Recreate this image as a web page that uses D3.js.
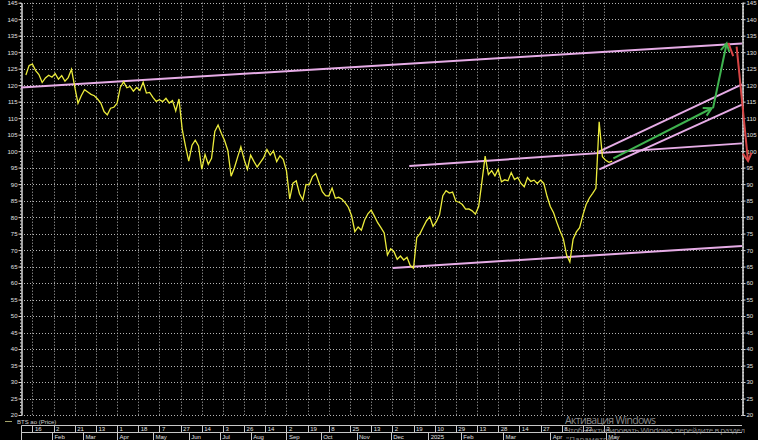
<!DOCTYPE html>
<html>
<head>
<meta charset="utf-8">
<script src="https://cdn.jsdelivr.net/npm/d3@7"></script>
<style>
  body { margin: 0; background: #000; }
  svg { display: block; }
</style>
</head>
<body>
<div id="chart"></div>
<script>
// price, one value every 2 trading days, starting at trading day 3
const priceStartDay = 3;
const priceStep = 2;
const priceValues = [
  123.1, 126.0, 126.4, 124.4, 123.2, 120.8, 122.2, 123.0, 122.4, 123.5,
  121.8, 122.9, 121.2, 122.3, 124.8, 119.5, 114.5, 116.8, 118.6, 117.9,
  117.2, 116.8, 115.8, 114.6, 112.0, 111.0, 113.0, 113.3, 114.5, 119.4,
  121.0, 119.2, 119.6, 118.2, 119.3, 118.4, 120.9, 117.6, 117.8, 116.3,
  115.1, 115.6, 115.0, 116.0, 114.6, 115.3, 112.2, 115.8, 106.6, 101.5,
  97.0, 101.8, 103.3, 101.6, 94.5, 99.0, 96.0, 97.8, 106.0, 107.9,
  105.4, 103.2, 100.2, 92.4, 94.9, 98.2, 101.3, 97.5, 94.5, 98.8,
  96.9, 95.2, 96.6, 98.0, 100.5, 98.8, 100.1, 96.8, 98.6, 97.5,
  94.0, 85.5, 90.3, 91.0, 87.1, 85.2, 89.9, 89.8, 92.3, 93.2,
  90.4, 87.7, 86.5, 86.4, 88.8, 85.7, 86.0, 85.5, 84.4, 83.0,
  80.4, 75.6, 77.0, 76.0, 79.1, 81.0, 82.1, 80.3, 78.3, 76.8,
  75.2, 68.5, 70.4, 69.5, 67.2, 68.2, 67.0, 67.8, 65.3, 64.5,
  73.8, 75.0, 77.0, 78.9, 80.1, 77.2, 78.6, 80.8, 86.5, 88.0,
  87.3, 87.6, 84.8, 84.5, 83.8, 82.4, 82.5, 81.9, 80.9, 83.2,
  90.7, 98.5, 92.9, 94.1, 92.5, 94.5, 90.7, 91.3, 91.0, 93.5,
  91.4, 92.0, 90.2, 89.2, 92.0, 90.8, 91.2, 90.2, 91.2, 90.2,
  86.3, 83.2, 81.3, 78.4, 75.8, 73.4, 68.5, 66.4, 73.3, 75.5,
  76.8, 80.6, 83.8, 85.8, 87.2, 88.7, 108.9, 98.3, 97.2, 96.6, 97.0
];

const totalDays = 442.7;
const firstTickDay = 7;
const tickEvery = 13;
const tickLabels = ["16","2","21","13","1","18","7","27","14","3","26","14","2","19",
  "8","25","13","2","19","10","29","13","28","14","27","8","22","3"];
const monthLabels = ["Feb","Mar","Apr","May","Jun","Jul","Aug","Sep","Oct","Nov","Dec",
  "2025","Feb","Mar","Apr","May"];
const monthDays = [19, 38, 59, 81, 103, 122, 141, 163, 184, 206, 227, 250, 270, 296, 325, 359];

const yTicks = d3.range(20, 146, 5);

// drawn lines: [day, price] end points
const trendLines = [
  [[0, 119.3], [442.7, 132.65]],
  [[228.2, 64.6], [442.7, 71.2]],
  [[238.4, 95.5], [442.7, 102.35]],
  [[354.5, 99.8], [442.7, 120.25]],
  [[355.1, 94.45], [442.7, 114.1]]
];
const greenArrows = [
  [[363.7, 97.8], [424.1, 113.0]],
  [[424.9, 113.0], [433.3, 132.7]]
];
const redStroke = [[434.3, 132.8], [437.3, 128.8]];
const redArrow = [[439.4, 131.7], [446.4, 97.0]];

const W = 758, H = 440;
const svg = d3.select("#chart").append("svg")
  .attr("width", W).attr("height", H)
  .style("background", "#000");

const x = d3.scaleLinear().domain([0, totalDays]).range([21, 742]);
const y = d3.scaleLinear().domain([20, 145]).range([415, 2.7]);

const tickDays = tickLabels.map((d, j) => firstTickDay + j * tickEvery);

// grid
const grid = svg.append("g")
  .attr("stroke", "#b4b4b4")
  .attr("stroke-width", 1)
  .attr("stroke-dasharray", "1,2");
grid.selectAll("line.h").data(yTicks).join("line")
  .attr("class", "h")
  .attr("x1", x(0)).attr("x2", x(totalDays))
  .attr("y1", d => Math.round(y(d)) + 0.5)
  .attr("y2", d => Math.round(y(d)) + 0.5);
grid.selectAll("line.v").data(tickDays).join("line")
  .attr("class", "v")
  .attr("x1", d => Math.round(x(d)) + 0.5)
  .attr("x2", d => Math.round(x(d)) + 0.5)
  .attr("y1", y(145)).attr("y2", y(20));

// axes
const styleAxis = g => {
  g.select(".domain").attr("stroke", "#d8d8d8");
  g.selectAll(".tick line").attr("stroke", "#d8d8d8");
  g.selectAll(".tick text").attr("fill", "#e0e0e0")
    .style("font", "6px 'Liberation Sans', Arial, sans-serif");
};
svg.append("g").attr("transform", "translate(21.5,0)")
  .call(d3.axisLeft(y).ticks(125).tickSize(1.5).tickFormat("").tickSizeOuter(0))
  .call(styleAxis);
svg.append("g").attr("transform", "translate(21.5,0)")
  .call(d3.axisLeft(y).tickValues(yTicks).tickSize(3).tickPadding(1).tickSizeOuter(0))
  .call(styleAxis);
svg.append("g").attr("transform", "translate(742.5,0)")
  .call(d3.axisRight(y).ticks(125).tickSize(1.5).tickFormat("").tickSizeOuter(0))
  .call(styleAxis);
svg.append("g").attr("transform", "translate(742.5,0)")
  .call(d3.axisRight(y).tickValues(yTicks).tickSize(3).tickPadding(1).tickSizeOuter(0))
  .call(styleAxis);

// trend lines
const line = d3.line().x(d => x(d[0])).y(d => y(d[1]));
svg.append("g").selectAll("path").data(trendLines).join("path")
  .attr("d", line)
  .attr("fill", "none")
  .attr("stroke", "#e6ace6")
  .attr("stroke-width", 2);

// price
const priceData = priceValues.map((v, k) => [priceStartDay + k * priceStep, v]);
svg.append("path")
  .datum(priceData)
  .attr("d", line)
  .attr("fill", "none")
  .attr("stroke", "#ecec3c")
  .attr("stroke-width", 1.3)
  .attr("stroke-linejoin", "miter");

// arrows
function arrow(g, pts, color) {
  g.append("path").attr("d", line(pts))
    .attr("fill", "none").attr("stroke", color).attr("stroke-width", 2);
  const [a, b] = pts.slice(-2).map(p => [x(p[0]), y(p[1])]);
  const ang = Math.atan2(b[1] - a[1], b[0] - a[0]);
  const L = 9, s = 0.5;
  const head = [
    [b[0] - L * Math.cos(ang - s), b[1] - L * Math.sin(ang - s)],
    b,
    [b[0] - L * Math.cos(ang + s), b[1] - L * Math.sin(ang + s)]
  ];
  g.append("path").attr("d", d3.line()(head))
    .attr("fill", "none").attr("stroke", color).attr("stroke-width", 2);
}
const ga = svg.append("g");
greenArrows.forEach(a => arrow(ga, a, "#3fb34f"));
svg.append("path").attr("d", line(redStroke))
  .attr("fill", "none").attr("stroke", "#d64545").attr("stroke-width", 2);
arrow(svg.append("g"), redArrow, "#d64545");

// legend
svg.append("line").attr("x1", 5).attr("x2", 12).attr("y1", 421.5).attr("y2", 421.5)
  .attr("stroke", "#a3a36a").attr("stroke-width", 1);
svg.append("text").attr("x", 17).attr("y", 423.5)
  .attr("fill", "#cfcfcf")
  .style("font", "6px 'Liberation Sans', Arial, sans-serif")
  .text("BTS ao (Price)");

// date box
const box = svg.append("g").attr("stroke", "#c8c8c8").attr("stroke-width", 1);
const r1 = 425.5, r2 = 432.5, r3 = 441;
box.append("line").attr("x1", 21.5).attr("x2", 742).attr("y1", r1).attr("y2", r1);
box.append("line").attr("x1", 21.5).attr("x2", 742).attr("y1", r2).attr("y2", r2);
box.append("line").attr("x1", 21.5).attr("x2", 21.5).attr("y1", r1).attr("y2", r3);
box.selectAll("line.t").data(tickDays).join("line").attr("class", "t")
  .attr("x1", d => Math.round(x(d)) + 0.5).attr("x2", d => Math.round(x(d)) + 0.5)
  .attr("y1", r1).attr("y2", r2);
box.selectAll("line.m").data(monthDays).join("line").attr("class", "m")
  .attr("x1", d => Math.round(x(d)) + 0.5).attr("x2", d => Math.round(x(d)) + 0.5)
  .attr("y1", r2).attr("y2", r3);

const lab = svg.append("g").attr("fill", "#e0e0e0")
  .style("font", "6px 'Liberation Sans', Arial, sans-serif");
lab.selectAll("text.t").data(tickLabels).join("text").attr("class", "t")
  .attr("x", (d, j) => x(tickDays[j]) + 2.5).attr("y", 431)
  .text(d => d);
lab.selectAll("text.m").data(monthLabels).join("text").attr("class", "m")
  .attr("x", (d, j) => x(monthDays[j]) + 2.5).attr("y", 438.5)
  .text(d => d);

// windows watermark
const wm = svg.append("g").attr("fill", "#a6a6a6").attr("fill-opacity", 0.85)
  .style("font-family", "'Open Sans', 'Noto Sans', sans-serif");
wm.append("text").attr("x", 565).attr("y", 424).style("font-size", "10.5px")
  .attr("textLength", 91).text("Активация Windows");
wm.append("text").attr("x", 565).attr("y", 432.5).style("font-size", "8px")
  .attr("textLength", 180).text("Чтобы активировать Windows, перейдите в раздел");
wm.append("text").attr("x", 566).attr("y", 442).style("font-size", "8px")
  .text("\"Параметры\".");
</script>
</body>
</html>
